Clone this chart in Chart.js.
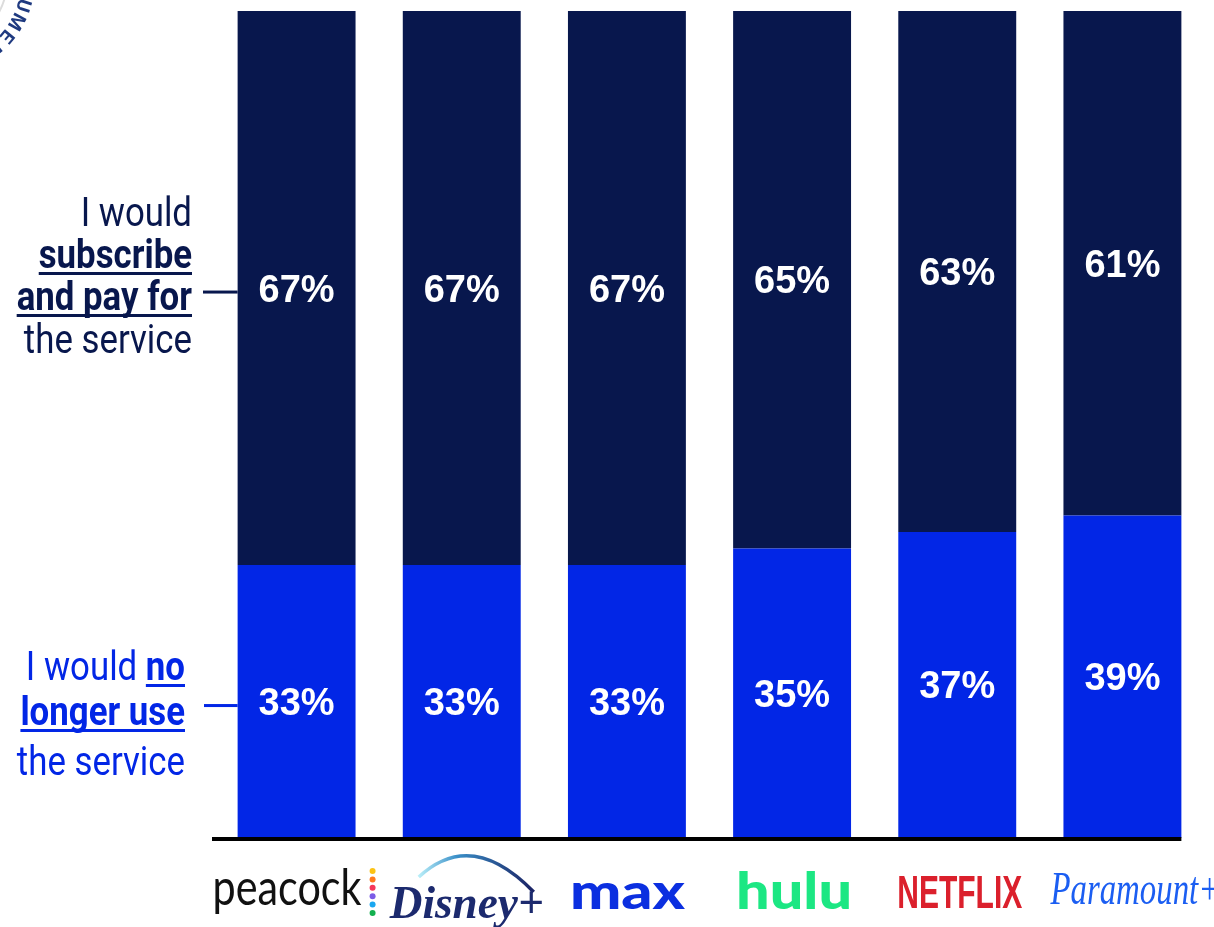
<!DOCTYPE html>
<html>
<head>
<meta charset="utf-8">
<script src="https://cdn.jsdelivr.net/npm/chart.js@4.4.1/dist/chart.umd.min.js"></script>
<style>
  body { margin: 0; background: #fff; }
  canvas { display: block; }
</style>
</head>
<body>
<canvas id="chart" width="1214" height="927"></canvas>
<script>
var services = ['peacock', 'Disney+', 'max', 'hulu', 'NETFLIX', 'Paramount+'];
var payShare = [67, 67, 67, 65, 63, 61];   // would subscribe and pay
var dropShare = [33, 33, 33, 35, 37, 39];  // would no longer use

var NAVY = '#08174d';
var BLUE = '#0226e6';
var CONDENSED = 0.87;

// text helper: draw a string squeezed horizontally, returns drawn width
function textWidth(ctx, s, sx) {
  return ctx.measureText(s).width * sx;
}
function drawSqueezed(ctx, s, x, y, sx) {
  ctx.save();
  ctx.translate(x, y);
  ctx.scale(sx, 1);
  ctx.fillText(s, 0, 0);
  ctx.restore();
}

// a line of mixed regular / bold-underlined parts, right aligned at rx
function richLine(ctx, parts, rx, y, color) {
  var total = 0;
  parts.forEach(function(p) {
    ctx.font = (p.b ? '700 ' : '400 ') + '40px Roboto';
    p.w = textWidth(ctx, p.t, CONDENSED);
    total += p.w;
  });
  var x = rx - total;
  ctx.fillStyle = color;
  ctx.textAlign = 'left';
  ctx.textBaseline = 'alphabetic';
  parts.forEach(function(p) {
    ctx.font = (p.b ? '700 ' : '400 ') + '40px Roboto';
    drawSqueezed(ctx, p.t, x, y, CONDENSED);
    if (p.b) {
      var lead = p.t.match(/^\s*/)[0];
      var lw = textWidth(ctx, lead, CONDENSED);
      ctx.fillRect(x + lw, y + 4, p.w - lw, 3);
    }
    x += p.w;
  });
}

var sideNotes = {
  id: 'sideNotes',
  afterDraw: function(chart) {
    var ctx = chart.ctx;
    var top = chart.getDatasetMeta(1).data[0];
    var bot = chart.getDatasetMeta(0).data[0];
    var left = top.x - top.width / 2;
    var yTop = (top.y + top.base) / 2 + 4;
    var yBot = (bot.y + bot.base) / 2 + 4;
    ctx.save();
    richLine(ctx, [{t: 'I would'}], 192, 226, NAVY);
    richLine(ctx, [{t: 'subscribe', b: true}], 192, 268, NAVY);
    richLine(ctx, [{t: 'and pay for', b: true}], 192, 310, NAVY);
    richLine(ctx, [{t: 'the service'}], 192, 353, NAVY);
    ctx.fillStyle = NAVY;
    ctx.fillRect(203, yTop - 1.5, left - 203, 3);

    richLine(ctx, [{t: 'I would '}, {t: 'no', b: true}], 185, 680, BLUE);
    richLine(ctx, [{t: 'longer use', b: true}], 185, 725, BLUE);
    richLine(ctx, [{t: 'the service'}], 185, 775, BLUE);
    ctx.fillStyle = BLUE;
    ctx.fillRect(204, yBot - 1.5, left - 204, 3);
    ctx.restore();
  }
};

var valueLabels = {
  id: 'valueLabels',
  afterDatasetsDraw: function(chart) {
    var ctx = chart.ctx;
    ctx.save();
    ctx.fillStyle = '#fff';
    ctx.font = '700 38px "Liberation Sans"';
    ctx.textAlign = 'center';
    ctx.textBaseline = 'middle';
    chart.data.datasets.forEach(function(ds, di) {
      chart.getDatasetMeta(di).data.forEach(function(el, i) {
        ctx.fillText(ds.data[i] + '%', el.x, (el.y + el.base) / 2 + 3);
      });
    });
    ctx.restore();
  }
};

// baseline and service wordmarks under the bars
var axisMarks = {
  id: 'axisMarks',
  afterDraw: function(chart) {
    var ctx = chart.ctx;
    var area = chart.chartArea;
    var xs = chart.scales.x;
    var last = chart.getDatasetMeta(0).data[services.length - 1];
    ctx.save();
    ctx.fillStyle = '#000';
    ctx.fillRect(212, area.bottom - 1, last.x + last.width / 2 - 212, 4);

    var y = 905;
    ctx.textBaseline = 'alphabetic';
    ctx.textAlign = 'left';
    services.forEach(function(name, i) {
      var cx = xs.getPixelForValue(i);
      if (i === 0) {
        ctx.fillStyle = '#111';
        ctx.font = '400 50px Lato';
        var w = ctx.measureText('peacock').width;
        drawSqueezed(ctx, 'peacock', cx - 84, y, 149 / w);
        var dots = ['#fcc314', '#ff7a1e', '#f5375b', '#7b5ce6', '#1aa7f0', '#13b04f'];
        dots.forEach(function(c, k) {
          ctx.fillStyle = c;
          ctx.beginPath();
          ctx.arc(cx + 76, 871 + k * 8.4, 3, 0, Math.PI * 2);
          ctx.fill();
        });
      } else if (i === 1) {
        var g = ctx.createLinearGradient(cx - 45, 0, cx + 70, 0);
        g.addColorStop(0, '#bff3fb');
        g.addColorStop(0.35, '#3a8fc8');
        g.addColorStop(1, '#1b2466');
        ctx.strokeStyle = g;
        ctx.lineWidth = 3.5;
        ctx.beginPath();
        ctx.moveTo(cx - 43, 877);
        ctx.quadraticCurveTo(cx + 10, 828, cx + 72, 892);
        ctx.stroke();
        ctx.fillStyle = '#1c2a6e';
        ctx.font = 'italic 700 46px "Liberation Serif"';
        var w2 = ctx.measureText('Disney+').width;
        drawSqueezed(ctx, 'Disney+', cx - 72, 918, 154 / w2);
      } else if (i === 2) {
        ctx.fillStyle = '#0b2fe0';
        ctx.font = '900 50px Lato';
        var w3 = ctx.measureText('max').width;
        drawSqueezed(ctx, 'max', cx - 57, 909, 115 / w3);
      } else if (i === 3) {
        ctx.fillStyle = '#1ce783';
        ctx.font = '900 52px Lato';
        var w4 = ctx.measureText('hulu').width;
        drawSqueezed(ctx, 'hulu', cx - 56, 909, 116 / w4);
      } else if (i === 4) {
        ctx.fillStyle = '#db202c';
        ctx.font = '700 46px "Liberation Sans"';
        var w5 = ctx.measureText('NETFLIX').width;
        drawSqueezed(ctx, 'NETFLIX', cx - 60, 908, 125 / w5);
      } else {
        ctx.fillStyle = '#1b5ef2';
        ctx.font = 'italic 46px "Liberation Serif"';
        var w6 = ctx.measureText('Paramount+').width;
        drawSqueezed(ctx, 'Paramount+', cx - 72, 904, 170 / w6);
      }
    });
    ctx.restore();
  }
};

// corner seal, mostly off the page
var seal = {
  id: 'seal',
  afterDraw: function(chart) {
    var ctx = chart.ctx;
    var cx = -60, cy = -20;
    ctx.save();
    ctx.strokeStyle = '#dcdcdc';
    ctx.lineWidth = 2;
    ctx.beginPath();
    ctx.arc(cx, cy, 67, 0, Math.PI * 2);
    ctx.stroke();
    ctx.fillStyle = '#1f3a80';
    ctx.font = '700 19px Roboto';
    ctx.textAlign = 'center';
    ctx.textBaseline = 'middle';
    var word = 'CONSUMER';
    for (var k = 0; k < word.length; k++) {
      var a = (-29 + k * 11.5) * Math.PI / 180;
      ctx.save();
      ctx.translate(cx + 86 * Math.cos(a), cy + 86 * Math.sin(a));
      ctx.rotate(a + Math.PI / 2);
      ctx.fillText(word[k], 0, 0);
      ctx.restore();
    }
    ctx.restore();
  }
};

new Chart(document.getElementById('chart'), {
  type: 'bar',
  data: {
    labels: services,
    datasets: [
      { label: 'I would no longer use the service', data: dropShare, backgroundColor: BLUE },
      { label: 'I would subscribe and pay for the service', data: payShare, backgroundColor: NAVY }
    ]
  },
  options: {
    responsive: false,
    animation: false,
    layout: { padding: { left: 214, top: 11, right: 9, bottom: 89 } },
    datasets: { bar: { barPercentage: 0.714, categoryPercentage: 1 } },
    scales: {
      x: { stacked: true, display: false },
      y: { stacked: true, display: false, min: 0, max: 100 }
    },
    plugins: { legend: { display: false }, tooltip: { enabled: false } }
  },
  plugins: [valueLabels, sideNotes, axisMarks, seal]
});
</script>
</body>
</html>
